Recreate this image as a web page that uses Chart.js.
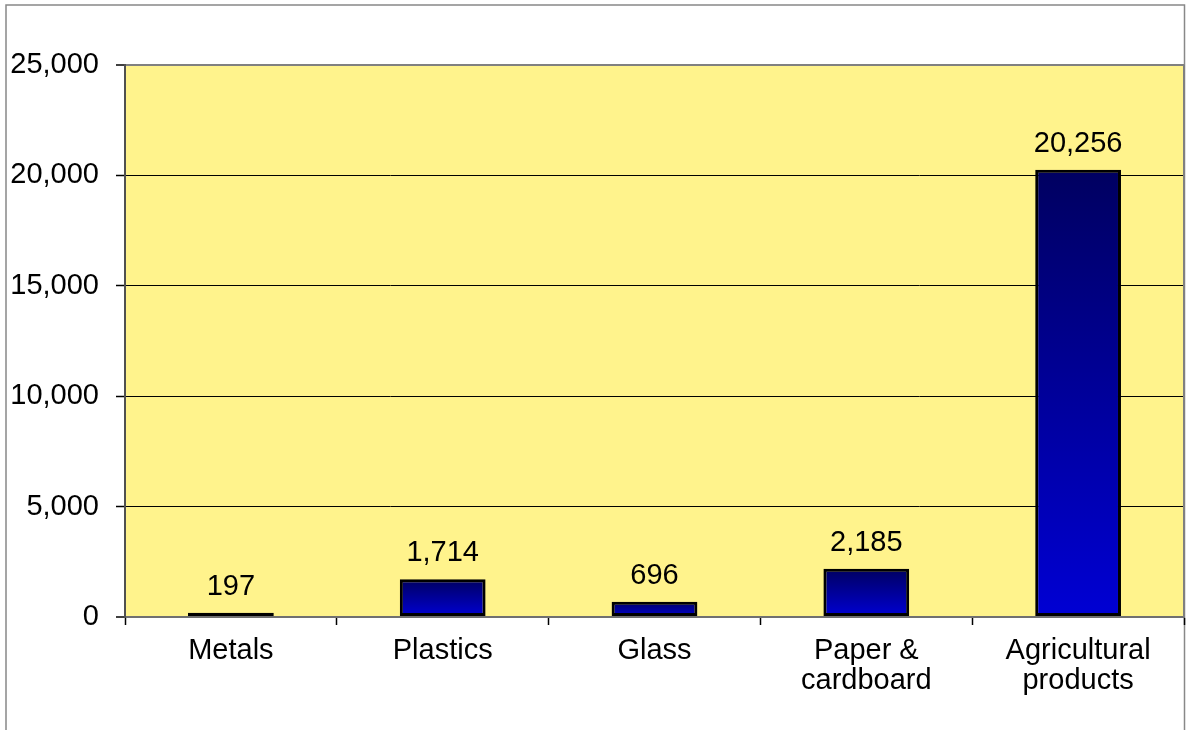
<!DOCTYPE html>
<html>
<head>
<meta charset="utf-8">
<script src="https://cdn.jsdelivr.net/npm/chart.js@4"></script>
<style>
  html, body { margin: 0; padding: 0; background: #ffffff; }
  canvas { display: block; }
</style>
</head>
<body>
<canvas id="chart" width="1186" height="730"></canvas>
<script>
// Waste quantities by material (tonnes)
const categories = [['Metals'], ['Plastics'], ['Glass'], ['Paper &', 'cardboard'], ['Agricultural', 'products']];
const quantities = [197, 1714, 696, 2185, 20256];
const yTickValues = [0, 5000, 10000, 15000, 20000, 25000];

const FONT = { family: '"Liberation Sans", Arial, sans-serif', size: 29 };
const fmt = v => v.toLocaleString('en-US');

// Vertical navy-to-blue gradient, spanning each bar's own height
function barGradient(ctx) {
  if (ctx.type !== 'data') return '#0000cc';
  const chart = ctx.chart;
  const y = chart.scales.y;
  if (!y) return '#0000cc';
  const top = y.getPixelForValue(ctx.raw);
  const base = y.getPixelForValue(0);
  if (!isFinite(top) || !isFinite(base) || top === base) return '#0000cc';
  const g = chart.ctx.createLinearGradient(0, top, 0, base);
  g.addColorStop(0, '#000060');
  g.addColorStop(1, '#0000d4');
  return g;
}

// Frame, plot background and plot border
const framePlugin = {
  id: 'frame',
  beforeDraw(chart) {
    const { ctx, chartArea: a } = chart;
    ctx.save();
    ctx.fillStyle = '#fff38c';
    ctx.fillRect(a.left, a.top, a.right - a.left, a.bottom - a.top);
    ctx.strokeStyle = '#888888';
    ctx.lineWidth = 1.5;
    ctx.strokeRect(6, 5, 1178.5, 800);
    ctx.restore();
  },
  afterDraw(chart) {
    const { ctx, chartArea: a } = chart;
    ctx.save();
    ctx.strokeStyle = '#808080';
    ctx.lineWidth = 2;
    ctx.beginPath();
    ctx.moveTo(a.right, a.top);
    ctx.lineTo(a.right, a.bottom);
    ctx.stroke();
    ctx.restore();
  }
};

// Value labels above each bar
const valueLabels = {
  id: 'valueLabels',
  afterDatasetsDraw(chart) {
    const { ctx } = chart;
    const meta = chart.getDatasetMeta(0);
    ctx.save();
    ctx.fillStyle = '#000';
    ctx.font = `${FONT.size}px ${FONT.family}`;
    ctx.textAlign = 'center';
    ctx.textBaseline = 'alphabetic';
    meta.data.forEach((el, i) => {
      ctx.fillText(fmt(quantities[i]), el.x, el.y - 18);
    });
    ctx.restore();
  }
};

new Chart(document.getElementById('chart'), {
  type: 'bar',
  data: {
    labels: categories,
    datasets: [{
      data: quantities,
      backgroundColor: barGradient,
      borderColor: '#000000',
      borderWidth: 3,
      borderSkipped: false,
      barPercentage: 0.405,
      categoryPercentage: 1.0
    }]
  },
  options: {
    responsive: false,
    animation: false,
    devicePixelRatio: 1,
    layout: { padding: { top: 65, right: 2, left: 0, bottom: 0 } },
    plugins: {
      legend: { display: false },
      tooltip: { enabled: false },
      title: { display: false }
    },
    scales: {
      x: {
        grid: {
          offset: true,
          drawOnChartArea: false,
          drawTicks: true,
          tickLength: 8,
          tickColor: '#000000',
          tickWidth: 1.5
        },
        border: { display: true, color: '#707070', width: 2 },
        ticks: {
          color: '#000000',
          font: { ...FONT, lineHeight: '30px' },
          padding: 11,
          maxRotation: 0,
          autoSkip: false
        },
        afterFit(scale) { scale.height = 113; }
      },
      y: {
        min: 0,
        max: 25000,
        afterBuildTicks(scale) {
          scale.ticks = yTickValues.map(v => ({ value: v }));
        },
        grid: {
          color: ctx => (ctx.tick && (ctx.tick.value === 0 || ctx.tick.value === 25000)) ? '#808080' : '#000000',
          lineWidth: ctx => (ctx.tick && (ctx.tick.value === 0 || ctx.tick.value === 25000)) ? 2 : 1,
          tickLength: 9,
          tickColor: '#000000',
          tickWidth: 1.5
        },
        border: { display: true, color: '#505050', width: 2 },
        ticks: {
          color: '#000000',
          font: FONT,
          padding: 17,
          callback: v => fmt(v)
        },
        afterFit(scale) { scale.width = 125; }
      }
    }
  },
  plugins: [framePlugin, valueLabels]
});
</script>
</body>
</html>
